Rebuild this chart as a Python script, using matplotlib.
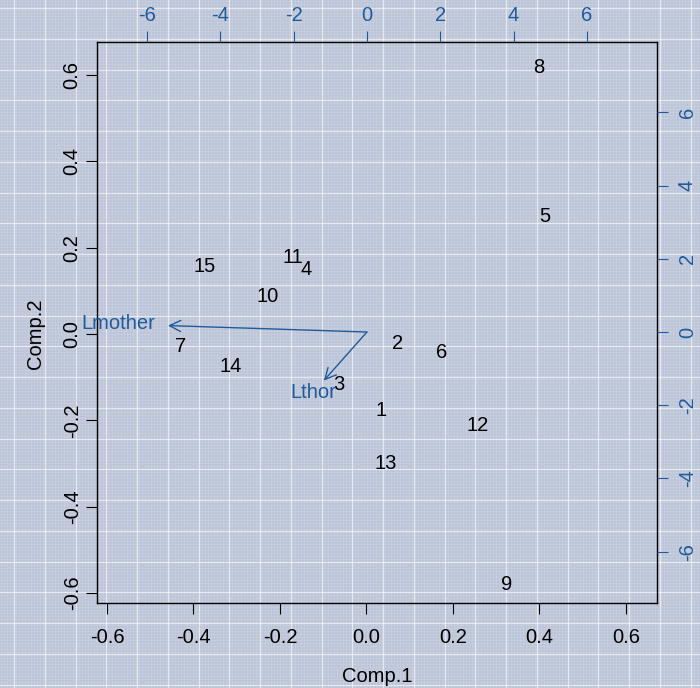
import matplotlib
matplotlib.use('Agg')
import matplotlib.pyplot as plt
import numpy as np

plt.rcParams['font.family'] = ['Liberation Sans', 'DejaVu Sans']
plt.rcParams['axes.unicode_minus'] = False

# scores (Comp.1, Comp.2)
labels = ['1', '2', '3', '4', '5', '6', '7', '8', '9', '10', '11', '12', '13', '14', '15']
comp1 = [0.034, 0.073, -0.064, -0.140, 0.413, 0.175, -0.429, 0.399, 0.325,
         -0.228, -0.170, 0.258, 0.045, -0.313, -0.373]
comp2 = [-0.178, -0.021, -0.116, 0.150, 0.273, -0.042, -0.028, 0.618, -0.581,
         0.086, 0.176, -0.211, -0.301, -0.076, 0.157]

# loadings (top / right axes)
var_names = ['Lmother', 'Lthor']
load1 = [-6.78, -1.47]
load2 = [0.22, -1.66]

blue = '#1f5b9c'
fs = 14.5
W, H = 700, 688
fig = plt.figure(figsize=(7, 6.88), dpi=100)

# patterned background
bg = fig.add_axes([0, 0, 1, 1])
bg.set_xlim(0, W)
bg.set_ylim(H, 0)
bg.axis('off')
bg.add_patch(plt.Rectangle((0, 0), W, H, color='#bcc5d8', zorder=0))
for v in np.arange(0.5, W, 3):
    bg.axvline(v, color='white', lw=0.5, alpha=0.15)
for v in np.arange(0.5, H, 3):
    bg.axhline(v, color='white', lw=0.5, alpha=0.15)
for v in np.arange(14, W, 30.75):
    bg.axvline(v, color='white', lw=0.9, alpha=0.6)
for v in np.arange(8, H, 30.75):
    bg.axhline(v, color='white', lw=0.9, alpha=0.6)

pos = [97 / W, (H - 603) / H, 560 / W, 561 / H]
ax = fig.add_axes(pos)
ax.patch.set_alpha(0)
ax.set_xlim(-0.623, 0.672)
ax.set_ylim(-0.623, 0.676)
for x, y, s in zip(comp1, comp2, labels):
    ax.text(x, y, s, ha='center', va='center', fontsize=fs, color='black')
ax.set_xticks([-0.6, -0.4, -0.2, 0.0, 0.2, 0.4, 0.6])
ax.set_yticks([-0.6, -0.4, -0.2, 0.0, 0.2, 0.4, 0.6])
ax.tick_params(direction='out', length=8, width=0.8, labelsize=fs, pad=10)
ax.tick_params(axis='y', pad=3)
for lab in ax.get_yticklabels():
    lab.set_rotation(90)
    lab.set_va('center')
for sp in ax.spines.values():
    sp.set_linewidth(1.0)

ax2 = fig.add_axes(pos, frameon=False)
ax2.patch.set_alpha(0)
ax2.set_xlim(-7.36, 7.91)
ax2.set_ylim(-7.40, 7.92)
ax2.xaxis.tick_top()
ax2.yaxis.tick_right()
ax2.set_xticks([-6, -4, -2, 0, 2, 4, 6])
ax2.set_yticks([-6, -4, -2, 0, 2, 4, 6])
ax2.tick_params(direction='out', length=8, width=0.8, labelsize=fs, colors=blue, pad=4)
ax2.tick_params(axis='y', pad=7)
for lab in ax2.get_yticklabels():
    lab.set_rotation(90)
    lab.set_va('center')

for x, y, s in zip(load1, load2, var_names):
    ax2.annotate('', xy=(0.8 * x, 0.8 * y), xytext=(0, 0),
                 arrowprops=dict(arrowstyle='->,head_length=0.8,head_width=0.4',
                                 color=blue, lw=1.0, shrinkA=0, shrinkB=0,
                                 mutation_scale=10))
    ax2.text(x, y, s, ha='center', va='center', fontsize=fs, color=blue)

fig.text(377 / W, 1 - 677 / H, 'Comp.1', ha='center', va='center', fontsize=fs)
fig.text(35 / W, 1 - 334 / H, 'Comp.2', ha='center', va='center', fontsize=fs, rotation=90)

fig.savefig('out.png', dpi=100)
